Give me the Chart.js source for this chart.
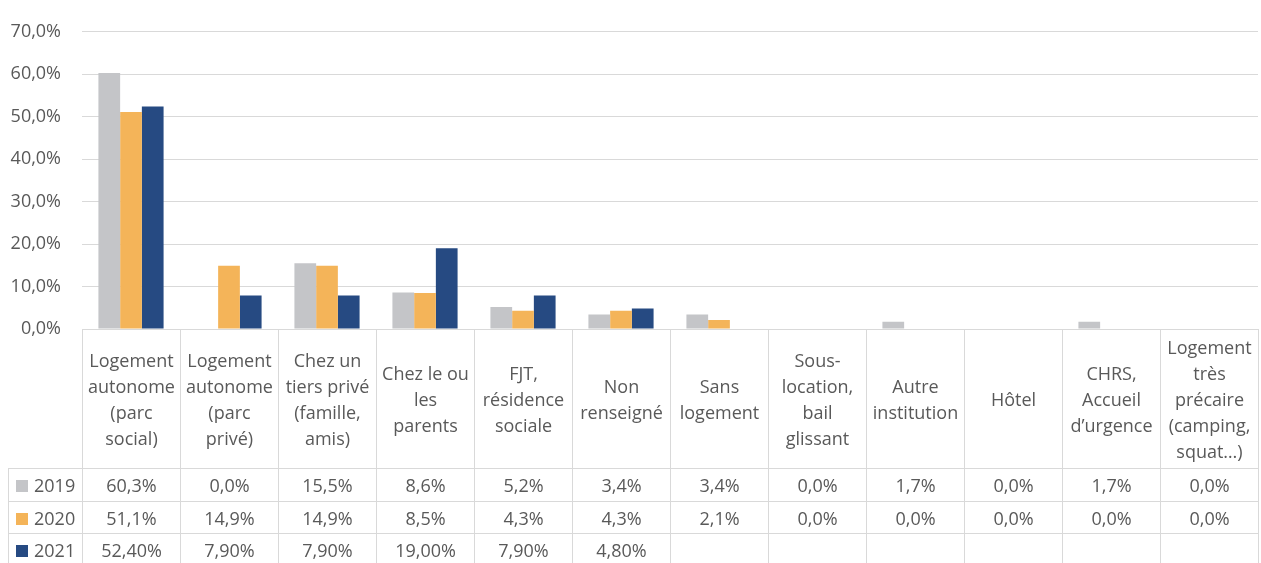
<!DOCTYPE html>
<html lang="fr">
<head>
    <meta charset="UTF-8">
    <title>Situation de logement</title>
    <script src="https://cdn.jsdelivr.net/npm/chart.js"></script>
    <style>
        body { margin: 0; background: #fff; overflow: hidden; }
        .zone { position: relative; width: 1261px; height: 563px; overflow: hidden; }
        #tabela {
            position: absolute;
            border-collapse: collapse;
            table-layout: fixed;
            font-family: "Open Sans", sans-serif;
            font-size: 18px;
            color: #595959;
        }
        #tabela td {
            border: 1px solid #d9d9d9;
            text-align: center;
            vertical-align: middle;
            padding: 0;
            white-space: nowrap;
            overflow: hidden;
        }
        #tabela tr.cabecalho td { line-height: 26px; }
        #tabela td.vazio { border-top: none; border-left: none; }
        #tabela td.serie { text-align: left; padding-left: 7px; }
        .quadrado { display: inline-block; width: 12px; height: 12px; margin-right: 6px; }
    </style>
</head>
<body>
    <div class="zone">
        <canvas id="grafico"></canvas>
        <table id="tabela"></table>
    </div>

<script>
    const categorias = [
        ['Logement', 'autonome', '(parc', 'social)'],
        ['Logement', 'autonome', '(parc', 'privé)'],
        ['Chez un', 'tiers privé', '(famille,', 'amis)'],
        ['Chez le ou', 'les', 'parents'],
        ['FJT,', 'résidence', 'sociale'],
        ['Non', 'renseigné'],
        ['Sans', 'logement'],
        ['Sous-', 'location,', 'bail', 'glissant'],
        ['Autre', 'institution'],
        ['Hôtel'],
        ['CHRS,', 'Accueil', 'd’urgence'],
        ['Logement', 'très', 'précaire', '(camping,', 'squat…)']
    ];

    const anos = ['2019', '2020', '2021'];
    const cores = ['#c4c5c8', '#f4b459', '#264a82'];
    const casasDecimais = [1, 1, 2];

    const valores2019 = [60.3, 0.0, 15.5, 8.6, 5.2, 3.4, 3.4, 0.0, 1.7, 0.0, 1.7, 0.0];
    const valores2020 = [51.1, 14.9, 14.9, 8.5, 4.3, 4.3, 2.1, 0.0, 0.0, 0.0, 0.0, 0.0];
    const valores2021 = [52.4, 7.9, 7.9, 19.0, 7.9, 4.8, null, null, null, null, null, null];

    const ticksY = [0, 10, 20, 30, 40, 50, 60, 70];

    const series = [valores2019, valores2020, valores2021];

    function formatar(v, casas) {
        if (v == null) return '';
        return v.toFixed(casas).replace('.', ',') + '%';
    }

    const ctx = document.getElementById('grafico').getContext('2d');

    const graficoChart = new Chart(ctx, {
        type: 'bar',
        data: {
            labels: categorias,
            datasets: anos.map(function (ano, i) {
                return {
                    label: ano,
                    data: series[i],
                    backgroundColor: cores[i],
                    borderWidth: 0,
                    categoryPercentage: 0.665,
                    barPercentage: 1
                };
            })
        },
        options: {
            responsive: true,
            maintainAspectRatio: false,
            animation: false,
            layout: { padding: { top: 20, bottom: 234, left: 0, right: 3 } },
            plugins: {
                legend: { display: false },
                tooltip: { enabled: false }
            },
            scales: {
                x: { display: false },
                y: {
                    min: 0,
                    max: 70,
                    afterFit: function (scale) { scale.width = 82; },
                    afterBuildTicks: function (scale) {
                        scale.ticks = ticksY.map(function (v) { return { value: v }; });
                    },
                    border: { display: false },
                    grid: { color: '#d9d9d9', lineWidth: 1, drawTicks: false },
                    ticks: {
                        padding: 21,
                        color: '#595959',
                        font: { family: 'Open Sans', size: 18 },
                        callback: function (v) { return v.toFixed(1).replace('.', ',') + '%'; }
                    }
                }
            }
        }
    });

    // tabela de dados alinhada com as categorias do eixo x
    function montarTabela(chart) {
        const area = chart.chartArea;
        const larguraCat = (area.right - area.left) / categorias.length;
        const esquerda = 8;
        const tabela = document.getElementById('tabela');
        tabela.style.left = esquerda + 'px';
        tabela.style.top = area.bottom + 'px';
        tabela.style.width = (area.right - esquerda) + 'px';

        let html = '<colgroup><col style="width:' + (area.left - esquerda) + 'px">';
        for (let i = 0; i < categorias.length; i++) {
            html += '<col style="width:' + larguraCat + 'px">';
        }
        html += '</colgroup>';

        html += '<tr class="cabecalho" style="height:139px"><td class="vazio"></td>';
        categorias.forEach(function (c) {
            html += '<td>' + c.join('<br>') + '</td>';
        });
        html += '</tr>';

        const alturas = [33, 32, 32];
        anos.forEach(function (ano, s) {
            html += '<tr style="height:' + alturas[s] + 'px"><td class="serie"><span class="quadrado" style="background:' + cores[s] + '"></span>' + ano + '</td>';
            series[s].forEach(function (v) {
                html += '<td>' + formatar(v, casasDecimais[s]) + '</td>';
            });
            html += '</tr>';
        });
        tabela.innerHTML = html;
    }

    montarTabela(graficoChart);
</script>
</body>
</html>
